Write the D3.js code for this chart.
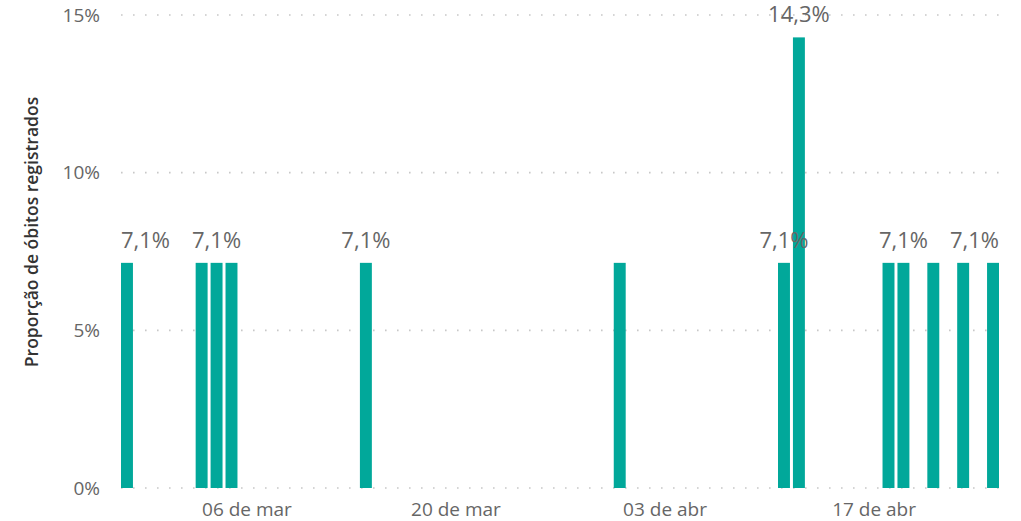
<!DOCTYPE html>
<html lang="pt">
<head>
<meta charset="UTF-8">
<title>Proporção de óbitos registrados</title>
<style>
	body { margin: 0; background: #fff; }
	svg text { font-family: "Segoe UI", "Open Sans", sans-serif; }
</style>
</head>
<body>
<script src="https://cdn.jsdelivr.net/npm/d3@7"></script>
<script>
	// dados
	var dates = ["2020-02-27", "2020-03-03", "2020-03-04", "2020-03-05", "2020-03-14",
		"2020-03-31", "2020-04-11", "2020-04-12", "2020-04-18", "2020-04-19",
		"2020-04-21", "2020-04-23", "2020-04-25"];
	var values = [7.14, 7.14, 7.14, 7.14, 7.14, 7.14, 7.14, 14.29, 7.14, 7.14, 7.14, 7.14, 7.14];
	var showLabel = [true, false, true, false, true, false, true, true, false, true, false, false, true];
	var tickDates = ["2020-03-06", "2020-03-20", "2020-04-03", "2020-04-17"];
	var tickLabels = ["06 de mar", "20 de mar", "03 de abr", "17 de abr"];
	var yTicks = [0, 5, 10, 15];

	var width = 1021,
		height = 521,
		plotLeft = 121,
		plotRight = 999,
		plotTop = 15,
		plotBottom = 488,
		DAY = 864e5;

	var parse = d3.utcParse("%Y-%m-%d");
	var data = dates.map(function(d, i) {
		return {date: parse(d), value: values[i], label: showLabel[i]};
	});

	var x = d3.scaleUtc()
		.domain([new Date(+data[0].date - 0.4 * DAY), new Date(+data[data.length - 1].date + 0.4 * DAY)])
		.range([plotLeft, plotRight]);
	var y = d3.scaleLinear()
		.domain([0, 15])
		.range([plotBottom, plotTop]);
	var barW = x(new Date(+data[0].date + 0.8 * DAY)) - x(data[0].date);

	var svg = d3.select("body").append("svg")
		.attr("width", width)
		.attr("height", height);

	// linhas de grade pontilhadas
	svg.selectAll("line.grid")
		.data(yTicks)
		.enter()
		.append("line")
		.attr("class", "grid")
		.attr("x1", plotLeft)
		.attr("x2", plotRight + 1)
		.attr("y1", function(d) { return y(d); })
		.attr("y2", function(d) { return y(d); })
		.attr("stroke", "#c8c8c8")
		.attr("stroke-width", 1.6)
		.attr("stroke-dasharray", "1.6,10.4");

	var yAxis = d3.axisLeft(y)
		.tickValues(yTicks)
		.tickFormat(function(d) { return d + "%"; })
		.tickSize(0)
		.tickPadding(21);
	var gy = svg.append("g")
		.attr("transform", "translate(" + plotLeft + ",0)")
		.call(yAxis);
	gy.select(".domain").remove();
	gy.selectAll("text")
		.attr("fill", "#666")
		.style("font-size", "19px");

	var tickMap = {};
	tickDates.forEach(function(d, i) { tickMap[+parse(d)] = tickLabels[i]; });
	var xAxis = d3.axisBottom(x)
		.tickValues(tickDates.map(parse))
		.tickFormat(function(d) { return tickMap[+d]; })
		.tickSize(0)
		.tickPadding(15);
	var gx = svg.append("g")
		.attr("transform", "translate(0," + plotBottom + ")")
		.call(xAxis);
	gx.select(".domain").remove();
	gx.selectAll("text")
		.attr("fill", "#666")
		.style("font-size", "19px");

	svg.append("text")
		.attr("transform", "translate(38," + 232 + ") rotate(-90)")
		.attr("text-anchor", "middle")
		.attr("fill", "#333")
		.style("font-size", "17.5px")
		.style("font-weight", 600)
		.text("Proporção de óbitos registrados");

	svg.selectAll("rect.bar")
		.data(data)
		.enter()
		.append("rect")
		.attr("class", "bar")
		.attr("x", function(d) { return x(d.date) - barW / 2; })
		.attr("y", function(d) { return y(d.value); })
		.attr("width", barW)
		.attr("height", function(d) { return y(0) - y(d.value); })
		.attr("fill", "#01a89a");

	var fmt = function(v) { return d3.format(".1f")(v).replace(".", ",") + "%"; };
	svg.selectAll("text.lbl")
		.data(data.filter(function(d) { return d.label; }))
		.enter()
		.append("text")
		.attr("class", "lbl")
		.attr("text-anchor", "middle")
		.attr("y", function(d) { return y(d.value) - 15; })
		.attr("fill", "#666")
		.style("font-size", "22px")
		.text(function(d) { return fmt(d.value); })
		.attr("x", function(d) {
			var w = this.getComputedTextLength();
			return Math.max(plotLeft + w / 2, Math.min(plotRight - w / 2, x(d.date)));
		});
</script>
</body>
</html>
